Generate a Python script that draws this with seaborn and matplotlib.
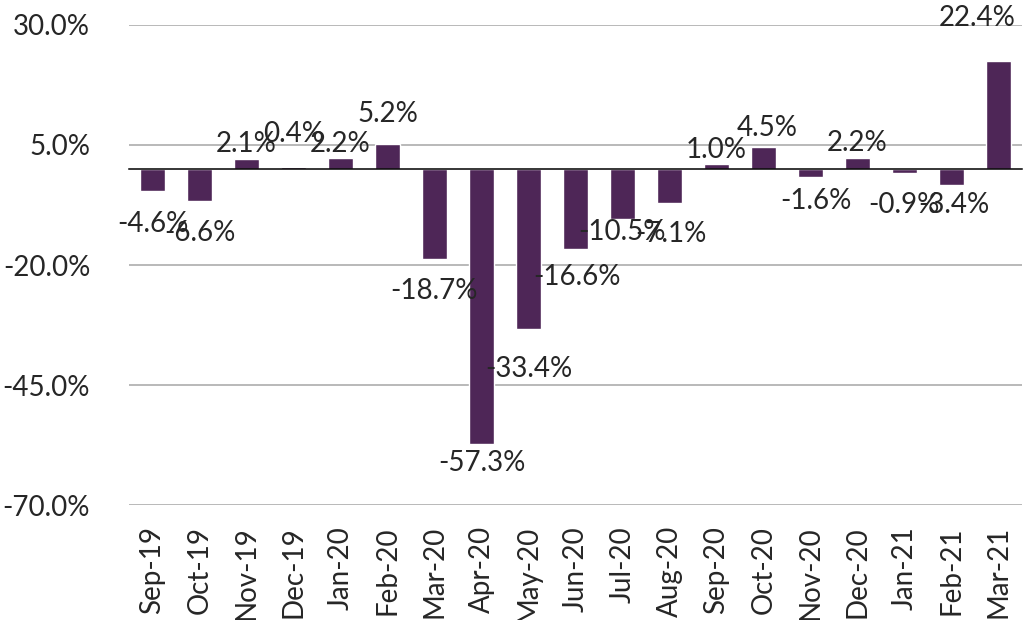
import numpy as np
import matplotlib
matplotlib.use('Agg')
import matplotlib.pyplot as plt
import seaborn as sns

# monthly change (%)
months = ['Sep-19', 'Oct-19', 'Nov-19', 'Dec-19', 'Jan-20', 'Feb-20', 'Mar-20',
          'Apr-20', 'May-20', 'Jun-20', 'Jul-20', 'Aug-20', 'Sep-20', 'Oct-20',
          'Nov-20', 'Dec-20', 'Jan-21', 'Feb-21', 'Mar-21']
values = [-4.6, -6.6, 2.1, 0.4, 2.2, 5.2, -18.7, -57.3, -33.4, -16.6, -10.5,
          -7.1, 1.0, 4.5, -1.6, 2.2, -0.9, -3.4, 22.4]
y_ticks = [30, 5, -20, -45, -70]

# label placement relative to bar end (pixels, +y is down)
label_dx = [0, 0, 0, 0, 0, 0, 0, 0, 0, 2, 0, 1, 0, 4, 5, 0, -1, 2, -21]
label_dy = [33, 32, -15, -33, -14, -30, 32, 19, 40, 28, 13, 31, -14, -19, 24, -15, 32, 20, -43]

BAR = '#4E2657'
TXT = '#262626'
FS = 20

sns.set_style('white')
plt.rcParams['font.family'] = ['Lato', 'DejaVu Sans']

fig = plt.figure(figsize=(10.24, 6.2), dpi=100)
ax = fig.add_axes([0.126, 0.185, 0.872, 0.775])

sns.barplot(x=months, y=values, color=BAR, saturation=1, width=0.53, ax=ax)

ax.set_ylim(-70, 30)
ax.set_yticks(y_ticks)
ax.set_yticklabels([f'{t:.1f}%' for t in y_ticks], fontsize=FS, color=TXT)
ax.tick_params(axis='y', length=0, pad=28)
ax.yaxis.grid(True, color='#A6A6A6', lw=1.1)
ax.set_axisbelow(True)
for s in ['left', 'right', 'top']:
    ax.spines[s].set_visible(False)

# zero line with tick marks between categories
n = len(months)
ax.spines['bottom'].set_position(('data', 0))
ax.spines['bottom'].set_color('black')
ax.spines['bottom'].set_linewidth(1.1)
ax.set_xticks(np.arange(-0.5, n), minor=True)
ax.tick_params(axis='x', which='minor', length=7, width=1, direction='out', color='black')
ax.tick_params(axis='x', which='major', length=0, labelbottom=False)
ax.set_xlim(-0.5, n - 0.5)
ax.set_xlabel('')

sec = ax.secondary_xaxis('bottom')
sec.set_xticks(range(n), labels=months)
sec.tick_params(length=0, pad=15, labelsize=FS, labelrotation=90, labelcolor=TXT)
sec.spines['bottom'].set_visible(False)

for i, v in enumerate(values):
    ax.annotate(f'{v:.1f}%', xy=(i, v), xytext=(label_dx[i], -label_dy[i]),
                textcoords='offset pixels', ha='center', va='center',
                fontsize=FS, color=TXT, annotation_clip=False)

plt.savefig('out.png', dpi=100)
plt.close()
